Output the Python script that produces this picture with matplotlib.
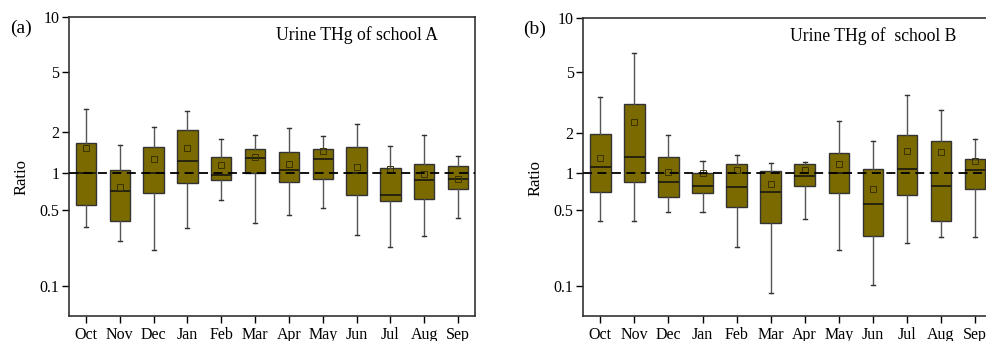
import matplotlib
matplotlib.use('Agg')
import matplotlib.pyplot as plt
import numpy as np
from matplotlib.ticker import FixedLocator, FixedFormatter, NullLocator

plt.rcParams['font.family'] = ['Liberation Serif', 'DejaVu Serif']

months = ['Oct', 'Nov', 'Dec', 'Jan', 'Feb', 'Mar', 'Apr', 'May', 'Jun', 'Jul', 'Aug', 'Sep']

# school A: whisker ends, quartiles, median, mean
a_low = [0.347, 0.255, 0.215, 0.342, 0.593, 0.378, 0.444, 0.516, 0.289, 0.226, 0.287, 0.422]
a_q1 = [0.543, 0.391, 0.685, 0.818, 0.882, 1.0, 0.838, 0.893, 0.656, 0.589, 0.612, 0.744]
a_med = [1.0, 0.712, 1.0, 1.225, 0.969, 1.296, 1.052, 1.274, 1.0, 0.664, 0.882, 0.893]
a_q3 = [1.67, 1.058, 1.561, 2.06, 1.31, 1.509, 1.434, 1.509, 1.543, 1.088, 1.158, 1.119]
a_high = [2.85, 1.605, 2.17, 2.75, 1.787, 1.90, 2.125, 1.858, 2.27, 1.579, 1.911, 1.333]
a_mean = [1.535, 0.767, 1.267, 1.535, 1.145, 1.30, 1.158, 1.443, 1.107, 1.064, 0.981, 0.898]

# school B
b_low = [0.391, 0.396, 0.473, 0.473, 0.226, 0.0863, 0.408, 0.215, 0.1028, 0.2476, 0.283, 0.283]
b_q1 = [0.698, 0.849, 0.639, 0.685, 0.529, 0.375, 0.792, 0.694, 0.287, 0.664, 0.396, 0.744]
b_med = [1.113, 1.31, 0.849, 0.792, 0.772, 0.703, 0.957, 1.01, 0.564, 1.076, 0.792, 1.058]
b_q3 = [1.967, 3.11, 1.31, 1.01, 1.171, 1.046, 1.171, 1.418, 1.07, 1.911, 1.718, 1.274]
b_high = [3.46, 6.44, 1.922, 1.232, 1.371, 1.191, 1.218, 2.39, 1.737, 3.56, 2.81, 1.787]
b_mean = [1.296, 2.36, 1.023, 1.0, 1.058, 0.823, 1.058, 1.177, 0.744, 1.467, 1.443, 1.239]

ytick_vals = [0.1, 0.5, 1, 2, 5, 10]
ytick_labels = ['0.1', '0.5', '1', '2', '5', '10']

# stretched log axis: piecewise linear in log10 between the tick values
knot_L = np.log10(ytick_vals)
knot_P = np.array([-339.0, -110.0, 0.0, 123.0, 304.0, 468.0])
lo_slope = (knot_P[1] - knot_P[0]) / (knot_L[1] - knot_L[0])
hi_slope = (knot_P[-1] - knot_P[-2]) / (knot_L[-1] - knot_L[-2])


def fwd(v):
    L = np.log10(np.clip(np.asarray(v, dtype=float), 1e-6, None))
    out = np.interp(L, knot_L, knot_P)
    out = np.where(L < knot_L[0], knot_P[0] + (L - knot_L[0]) * lo_slope, out)
    out = np.where(L > knot_L[-1], knot_P[-1] + (L - knot_L[-1]) * hi_slope, out)
    return out


def inv(p):
    p = np.asarray(p, dtype=float)
    L = np.interp(p, knot_P, knot_L)
    L = np.where(p < knot_P[0], knot_L[0] + (p - knot_P[0]) / lo_slope, L)
    L = np.where(p > knot_P[-1], knot_L[-1] + (p - knot_P[-1]) / hi_slope, L)
    return 10 ** L


box_color = '#7a6a00'


def draw_panel(ax, low, q1, med, q3, high, mean, title, tag):
    stats = []
    for i in range(len(months)):
        stats.append(dict(whislo=low[i], q1=q1[i], med=med[i], q3=q3[i],
                          whishi=high[i], mean=mean[i], label=months[i]))
    pos = np.arange(1, len(months) + 1)
    ax.bxp(stats, positions=pos, widths=0.6, patch_artist=True,
           showmeans=True, showfliers=False,
           boxprops=dict(facecolor=box_color, edgecolor='#333333', linewidth=1.0),
           medianprops=dict(color='#111111', linewidth=1.1),
           whiskerprops=dict(color='#555555', linewidth=1.0),
           capprops=dict(color='#333333', linewidth=1.0),
           capwidths=0.12,
           meanprops=dict(marker='s', markersize=4, markerfacecolor='none',
                          markeredgecolor='#3a3200', markeredgewidth=0.7))
    ax.axhline(1, color='black', linestyle=(0, (5, 3)), linewidth=1.3, zorder=5)
    ax.set_yscale('function', functions=(fwd, inv))
    ax.set_ylim(0.0532, 10)
    ax.set_xlim(0.5, 12.5)
    ax.yaxis.set_major_locator(FixedLocator(ytick_vals))
    ax.yaxis.set_major_formatter(FixedFormatter(ytick_labels))
    ax.yaxis.set_minor_locator(NullLocator())
    ax.set_xticks(pos)
    ax.set_xticklabels(months)
    ax.tick_params(axis='x', direction='out', length=5, width=1.0, labelsize=11.5, pad=3)
    ax.tick_params(axis='y', direction='out', length=5, width=1.0, labelsize=11.5, pad=2)
    for s in ax.spines.values():
        s.set_linewidth(1.2)
        s.set_color('#333333')
    ax.set_ylabel('Ratio', fontsize=12)
    ax.yaxis.set_label_coords(-0.098, 0.464)
    ax.text(0.709, 0.94, title, transform=ax.transAxes, fontsize=12.7,
            ha='center', va='center')
    ax.text(-0.119, 0.963, tag, transform=ax.transAxes, fontsize=14,
            ha='center', va='center')


W, H = 987, 341
fig = plt.figure(figsize=(W / 100, H / 100), dpi=100)
ax1 = fig.add_axes([69 / W, 1 - 315.7 / H, (475 - 69) / W, (315.7 - 17) / H])
ax2 = fig.add_axes([583.3 / W, 1 - 315.7 / H, (992 - 583.3) / W, (315.7 - 18) / H])

draw_panel(ax1, a_low, a_q1, a_med, a_q3, a_high, a_mean, 'Urine THg of school A', '(a)')
draw_panel(ax2, b_low, b_q1, b_med, b_q3, b_high, b_mean, 'Urine THg of  school B', '(b)')

fig.savefig('out.png', dpi=100)
